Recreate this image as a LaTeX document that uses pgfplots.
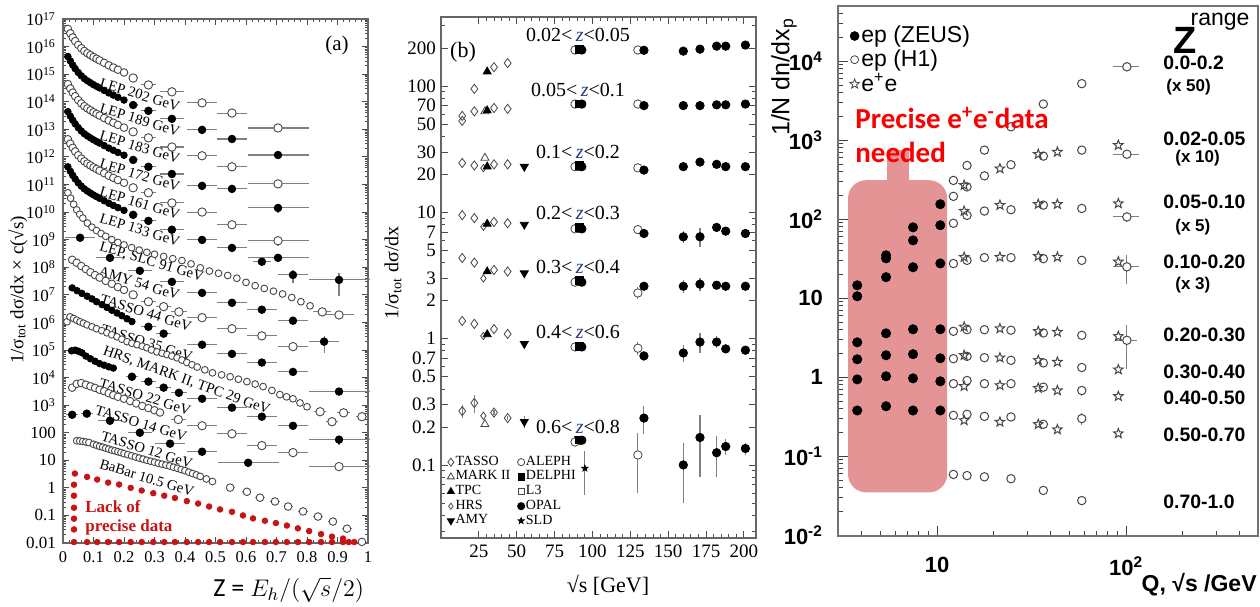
\documentclass[border=0pt]{standalone}
\usepackage{fontspec}
\setmainfont{Liberation Serif}
\newfontfamily\lsans{Liberation Sans}
\newfontfamily\carlito{Carlito}
\usepackage{pgfplots}
\pgfplotsset{compat=1.18}

\definecolor{ocol}{RGB}{70,70,70}
\definecolor{dotred}{RGB}{200,20,20}
\definecolor{boxred}{RGB}{202,42,42}
\definecolor{zblue}{RGB}{40,55,130}
\definecolor{txtred}{RGB}{250,0,0}

% open and filled five-point stars
\pgfdeclareplotmark{ostar}{%
  \pgfpathmoveto{\pgfpointpolar{90}{\pgfplotmarksize}}%
  \pgfpathlineto{\pgfpointpolar{126}{0.42*\pgfplotmarksize}}%
  \pgfpathlineto{\pgfpointpolar{162}{\pgfplotmarksize}}%
  \pgfpathlineto{\pgfpointpolar{198}{0.42*\pgfplotmarksize}}%
  \pgfpathlineto{\pgfpointpolar{234}{\pgfplotmarksize}}%
  \pgfpathlineto{\pgfpointpolar{270}{0.42*\pgfplotmarksize}}%
  \pgfpathlineto{\pgfpointpolar{306}{\pgfplotmarksize}}%
  \pgfpathlineto{\pgfpointpolar{342}{0.42*\pgfplotmarksize}}%
  \pgfpathlineto{\pgfpointpolar{18}{\pgfplotmarksize}}%
  \pgfpathlineto{\pgfpointpolar{54}{0.42*\pgfplotmarksize}}%
  \pgfpathclose\pgfusepathqstroke}
\pgfdeclareplotmark{fstar}{%
  \pgfpathmoveto{\pgfpointpolar{90}{\pgfplotmarksize}}%
  \pgfpathlineto{\pgfpointpolar{126}{0.42*\pgfplotmarksize}}%
  \pgfpathlineto{\pgfpointpolar{162}{\pgfplotmarksize}}%
  \pgfpathlineto{\pgfpointpolar{198}{0.42*\pgfplotmarksize}}%
  \pgfpathlineto{\pgfpointpolar{234}{\pgfplotmarksize}}%
  \pgfpathlineto{\pgfpointpolar{270}{0.42*\pgfplotmarksize}}%
  \pgfpathlineto{\pgfpointpolar{306}{\pgfplotmarksize}}%
  \pgfpathlineto{\pgfpointpolar{342}{0.42*\pgfplotmarksize}}%
  \pgfpathlineto{\pgfpointpolar{18}{\pgfplotmarksize}}%
  \pgfpathlineto{\pgfpointpolar{54}{0.42*\pgfplotmarksize}}%
  \pgfpathclose\pgfusepathqfillstroke}

\pgfplotsset{
  oc/.style={only marks, mark=*, mark size=1.9pt, mark options={fill=white, draw=ocol, line width=0.45pt}},
  fc/.style={only marks, mark=*, mark size=1.65pt, black},
  eb/.style={error bars/x dir=both, error bars/x explicit, error bars/y dir=both, error bars/y explicit,
    error bars/error mark=none, error bars/error bar style={black!50, line width=0.55pt}},
}
\tikzset{
  lab/.style={rotate=-17, font=\fontsize{7.3}{8}\selectfont, inner sep=0pt},
  rowlab/.style={font=\fontsize{10}{11}\selectfont, inner sep=0pt},
}
\newcommand{\zz}{\textcolor{zblue}{\textit{z}}}

\begin{document}
\begin{tikzpicture}
\useasboundingbox (0,0) rectangle (630pt,303pt);

% ================= panel (a) =================
\begin{axis}[
  at={(31.5pt,31.5pt)}, anchor=south west, scale only axis,
  width=152.5pt, height=262pt, clip=false,
  xmin=0, xmax=1, ymode=log, ymin=0.01, ymax=1e17,
  xtick={0,0.1,0.2,0.3,0.4,0.5,0.6,0.7,0.8,0.9,1},
  xticklabels={0,0.1,0.2,0.3,0.4,0.5,0.6,0.7,0.8,0.9,1},
  minor x tick num=4,
  ytick={1e-2,1e-1,1,1e1,1e2,1e3,1e4,1e5,1e6,1e7,1e8,1e9,1e10,1e11,1e12,1e13,1e14,1e15,1e16,1e17},
  yticklabels={0.01,0.1,1,10,100,10\textsuperscript{3},10\textsuperscript{4},10\textsuperscript{5},10\textsuperscript{6},10\textsuperscript{7},10\textsuperscript{8},10\textsuperscript{9},10\textsuperscript{10},10\textsuperscript{11},10\textsuperscript{12},10\textsuperscript{13},10\textsuperscript{14},10\textsuperscript{15},10\textsuperscript{16},10\textsuperscript{17}},
  minor ytick={},
  tick align=inside, major tick length=3pt, minor tick length=1.6pt,
  tick style={black!70, line width=0.4pt},
  axis line style={black!60, line width=0.6pt},
  ticklabel style={font=\fontsize{8.5}{9}\selectfont},
  xticklabel style={yshift=-1pt, font=\fontsize{8.2}{9}\selectfont},
]
% LEP 202
\addplot[oc] coordinates {(0.016,4.37e16)(0.024,3.02e16)(0.032,2.14e16)(0.04,1.58e16)(0.05,1.15e16)(0.06,8.71e15)(0.07,6.92e15)(0.08,5.75e15)(0.09,4.90e15)(0.1,4.17e15)(0.11,3.63e15)(0.12,3.16e15)(0.135,2.57e15)(0.15,2.09e15)(0.165,1.74e15)(0.18,1.45e15)(0.2,1.15e15)};
\addplot[oc,eb,mark size=2.1pt] coordinates {(0.23,7.24e14) +- (0.015,0) (0.28,4.07e14) +- (0.025,0) (0.357,2.29e14) +- (0.04,0) (0.456,9.12e13) +- (0.05,0) (0.554,3.89e13) +- (0.05,0) (0.705,1.12e13) +- (0.1,0)};
% LEP 189
\addplot[fc] coordinates {(0.016,4.37e15)(0.024,3.02e15)(0.032,2.14e15)(0.04,1.58e15)(0.05,1.15e15)(0.06,8.71e14)(0.07,6.92e14)(0.08,5.75e14)(0.09,4.90e14)(0.1,4.17e14)(0.11,3.63e14)(0.12,3.16e14)(0.135,2.57e14)(0.15,2.09e14)(0.165,1.74e14)(0.18,1.45e14)(0.2,1.15e14)};
\addplot[fc,eb,mark size=1.9pt] coordinates {(0.23,7.59e13) +- (0.015,0) (0.28,4.68e13) +- (0.025,0) (0.357,2.40e13) +- (0.04,0) (0.456,9.55e12) +- (0.05,0) (0.554,4.47e12) +- (0.05,0) (0.705,1.17e12) +- (0.1,0)};
% LEP 183
\addplot[oc] coordinates {(0.016,4.37e14)(0.024,3.02e14)(0.032,2.14e14)(0.04,1.58e14)(0.05,1.15e14)(0.06,8.71e13)(0.07,6.92e13)(0.08,5.75e13)(0.09,4.90e13)(0.1,4.17e13)(0.11,3.63e13)(0.12,3.16e13)(0.135,2.57e13)(0.15,2.09e13)(0.165,1.74e13)(0.18,1.45e13)(0.2,1.15e13)};
\addplot[oc,eb,mark size=2.1pt] coordinates {(0.23,8.13e12) +- (0.015,0) (0.28,4.90e12) +- (0.025,0) (0.357,2.29e12) +- (0.04,0) (0.456,1.10e12) +- (0.05,0) (0.554,4.37e11) +- (0.05,0) (0.705,1.05e11) +- (0.1,0)};
% LEP 172
\addplot[fc] coordinates {(0.016,4.37e13)(0.024,3.02e13)(0.032,2.14e13)(0.04,1.58e13)(0.05,1.15e13)(0.06,8.71e12)(0.07,6.92e12)(0.08,5.75e12)(0.09,4.90e12)(0.1,4.17e12)(0.11,3.63e12)(0.12,3.16e12)(0.135,2.57e12)(0.15,2.09e12)(0.165,1.74e12)(0.18,1.45e12)(0.2,1.15e12)};
\addplot[fc,eb,mark size=1.9pt] coordinates {(0.23,7.76e11) +- (0.015,0) (0.28,4.37e11) +- (0.025,0) (0.357,2.40e11) +- (0.04,0) (0.456,8.91e10) +- (0.05,0) (0.554,6.92e10) +- (0.05,0) (0.705,1.41e10) +- (0.1,0.5e10)};
% LEP 161
\addplot[oc] coordinates {(0.016,4.37e12)(0.024,3.02e12)(0.032,2.14e12)(0.04,1.58e12)(0.05,1.15e12)(0.06,8.71e11)(0.07,6.92e11)(0.08,5.75e11)(0.09,4.90e11)(0.1,4.17e11)(0.11,3.63e11)(0.12,3.16e11)(0.135,2.57e11)(0.15,2.09e11)(0.165,1.74e11)(0.18,1.45e11)(0.2,1.15e11)};
\addplot[oc,eb,mark size=2.1pt] coordinates {(0.23,7.59e10) +- (0.015,0) (0.28,5.01e10) +- (0.025,0) (0.357,2.14e10) +- (0.04,0) (0.456,1.0e10) +- (0.05,0) (0.554,3.47e9) +- (0.05,0) (0.705,9.12e8) +- (0.1,3e8)};
% LEP 133
\addplot[fc] coordinates {(0.016,4.37e11)(0.024,3.02e11)(0.032,2.14e11)(0.04,1.58e11)(0.05,1.15e11)(0.06,8.71e10)(0.07,6.92e10)(0.08,5.75e10)(0.09,4.90e10)(0.1,4.17e10)(0.11,3.63e10)(0.12,3.16e10)(0.135,2.57e10)(0.15,2.09e10)(0.165,1.74e10)(0.18,1.45e10)(0.2,1.15e10)};
\addplot[fc,eb,mark size=1.9pt] coordinates {(0.23,7.94e9) +- (0.015,0) (0.28,4.79e9) +- (0.025,0) (0.357,2.29e9) +- (0.04,0) (0.456,9.77e8) +- (0.05,0) (0.554,5.01e8) +- (0.05,0) (0.705,2.19e8) +- (0.1,0)};
\addplot[fc,eb,mark size=1.9pt] coordinates {(0.652,1.58e8) +- (0.03,0.5e8) (0.754,5.25e7) +- (0.05,2.5e7) (0.905,3.47e7) +- (0.1,2.6e7)};
% LEP, SLC 91
\addplot[oc,mark size=1.7pt] coordinates {(0.016,5.01e10)(0.025,3.16e10)(0.035,1.91e10)(0.045,1.20e10)(0.055,8.32e9)(0.065,6.03e9)(0.08,3.98e9)(0.095,2.82e9)(0.11,2.14e9)(0.125,1.66e9)(0.14,1.32e9)(0.16,1.0e9)(0.18,7.94e8)(0.2,6.46e8)(0.225,5.13e8)(0.25,4.17e8)(0.275,3.47e8)(0.3,2.95e8)(0.33,2.45e8)(0.36,2.04e8)(0.39,1.74e8)(0.42,1.32e8)(0.45,9.55e7)(0.48,7.24e7)(0.51,6.03e7)(0.54,5.01e7)(0.57,3.98e7)(0.6,2.82e7)(0.63,2.14e7)(0.66,1.70e7)(0.69,1.35e7)(0.72,1.07e7)(0.75,7.94e6)(0.78,5.62e6)(0.81,3.98e6)};
\addplot[oc,eb,mark size=2.1pt] coordinates {(0.85,2.4e6) +- (0.03,0) (0.905,1.86e6) +- (0.05,0)};
\addplot[fc,eb,mark size=1.9pt] coordinates {(0.056,1.17e9) +- (0.05,0) (0.154,2.19e8) +- (0.045,0) (0.252,7.41e7) +- (0.04,0) (0.357,2.95e7) +- (0.04,0) (0.456,1.17e7) +- (0.05,0) (0.554,5.13e6) +- (0.05,0) (0.652,2.88e6) +- (0.05,0) (0.754,1.15e6) +- (0.05,0) (0.856,2.0e5) +- (0.05,1.2e5)};
% AMY 54
\addplot[oc] coordinates {(0.03,1.86e8)(0.045,1.45e8)(0.06,1.10e8)(0.075,8.5e7)(0.09,6.6e7)(0.105,5.2e7)(0.12,4.2e7)(0.14,3.2e7)(0.16,2.5e7)(0.18,1.9e7)(0.2,1.5e7)};
\addplot[oc,eb,mark size=2.1pt] coordinates {(0.23,1.0e7) +- (0.015,0) (0.28,5.62e6) +- (0.025,0) (0.33,3.72e6) +- (0.025,0) (0.38,2.40e6) +- (0.025,0) (0.456,1.48e6) +- (0.05,0) (0.554,5.89e5) +- (0.05,0) (0.652,3.24e5) +- (0.05,0) (0.754,1.32e5) +- (0.05,0)};
% TASSO 44
\addplot[fc] coordinates {(0.03,1.78e7)(0.046,1.41e7)(0.062,1.12e7)(0.079,8.9e6)(0.095,7.1e6)(0.11,5.6e6)(0.128,4.4e6)(0.144,3.5e6)(0.16,2.75e6)(0.177,2.19e6)(0.193,1.74e6)(0.21,1.35e6)(0.226,1.07e6)};
\addplot[fc,eb,mark size=1.9pt] coordinates {(0.28,6.9e5) +- (0.025,0) (0.33,3.9e5) +- (0.025,0) (0.456,1.55e5) +- (0.05,0) (0.554,7.2e4) +- (0.05,0) (0.652,3.5e4) +- (0.05,0) (0.754,1.6e4) +- (0.05,0) (0.905,3.1e3) +- (0.1,0)};
% TASSO 35
\addplot[oc,mark size=1.7pt] coordinates {(0.013,1.05e6)(0.023,1.58e6)(0.035,1.38e6)(0.045,1.2e6)(0.056,1.05e6)(0.067,9.3e5)(0.079,8.1e5)(0.095,6.9e5)(0.11,5.9e5)(0.127,5.0e5)(0.144,4.2e5)(0.16,3.55e5)(0.177,3.0e5)(0.193,2.45e5)(0.21,2.0e5)(0.226,1.75e5)(0.243,1.55e5)(0.26,1.37e5)(0.275,1.2e5)(0.29,1.0e5)(0.308,8.5e4)(0.325,7.6e4)(0.341,6.8e4)(0.357,6.0e4)(0.374,5.2e4)(0.39,4.3e4)(0.406,3.5e4)(0.423,2.9e4)(0.44,2.4e4)(0.465,1.9e4)(0.49,1.48e4)(0.52,1.25e4)(0.548,1.07e4)(0.575,8.7e3)(0.603,7.1e3)(0.63,5.8e3)(0.656,4.7e3)(0.685,3.4e3)(0.711,2.4e3)(0.733,2.0e3)(0.754,1.7e3)(0.777,1.2e3)(0.8,870)};
\addplot[oc,eb,mark size=2.1pt] coordinates {(0.843,575) +- (0.02,0) (0.882,250) +- (0.02,60) (0.92,525) +- (0.02,0) (0.98,380) +- (0.02,0)};
% HRS, MARK II, TPC 29
\addplot[fc] coordinates {(0.028,9.3e4)(0.04,9.8e4)(0.05,9.0e4)(0.062,7.9e4)(0.075,6.0e4)(0.09,4.8e4)(0.105,3.9e4)(0.12,3.2e4)(0.135,2.8e4)(0.15,2.45e4)(0.165,2.2e4)};
\addplot[fc,eb,mark size=1.9pt] coordinates {(0.226,1.07e4) +- (0.02,0) (0.28,7.1e3) +- (0.025,0) (0.33,4.3e3) +- (0.025,0) (0.38,2.8e3) +- (0.025,0) (0.456,1.7e3) +- (0.05,0) (0.554,810) +- (0.05,0) (0.652,380) +- (0.05,0) (0.754,178) +- (0.05,0) (0.905,56) +- (0.1,20)};
% TASSO 22
\addplot[oc] coordinates {(0.03,4.3e3)(0.045,5.9e3)(0.06,6.3e3)(0.075,5.5e3)(0.09,4.8e3)(0.105,4.2e3)(0.12,3.6e3)(0.135,3.2e3)(0.15,2.7e3)(0.165,2.3e3)(0.18,2.0e3)(0.2,1.7e3)(0.22,1.4e3)(0.24,1.15e3)(0.26,930)(0.28,780)(0.3,650)(0.318,540)};
\addplot[oc,eb,mark size=2.1pt] coordinates {(0.378,300) +- (0.025,0) (0.456,178) +- (0.05,0) (0.554,91) +- (0.05,0) (0.652,34) +- (0.05,0) (0.754,19) +- (0.05,0) (0.905,5.9) +- (0.1,0)};
% TASSO 14
\addplot[fc,eb,mark size=1.9pt] coordinates {(0.03,447) +- (0.02,0) (0.078,490) +- (0.02,0) (0.154,270) +- (0.04,0) (0.252,100) +- (0.04,0) (0.351,40) +- (0.05,0) (0.456,20.4) +- (0.05,0) (0.607,8.1) +- (0.1,0)};
% TASSO 12 / BaBar
\addplot[oc,mark size=1.7pt] coordinates {(0.045,51)(0.055,50)(0.065,48)(0.075,46)(0.085,44)(0.1,38)(0.11,35)(0.12,32)(0.13,30)(0.14,27.5)(0.15,25.5)(0.16,23.4)(0.17,22)(0.18,20.4)(0.19,19)(0.2,17.4)(0.2125,16)(0.225,14.5)(0.2375,13.2)(0.25,12)(0.2625,11)(0.275,10)(0.2875,9.2)(0.3,8.5)(0.3125,7.8)(0.325,7.2)(0.3375,6.7)(0.35,6.2)(0.3625,5.6)(0.375,5.1)(0.3875,4.6)(0.4,4.2)(0.4125,3.7)(0.425,3.3)(0.4375,2.95)(0.45,2.6)(0.47,2.1)(0.49,1.7)};
\addplot[oc,eb,mark size=1.9pt] coordinates {(0.548,1.02) +- (0.015,0) (0.603,0.72) +- (0.015,0) (0.646,0.44) +- (0.015,0) (0.695,0.32) +- (0.015,0) (0.738,0.21) +- (0.015,0) (0.787,0.14) +- (0.015,0) (0.836,0.091) +- (0.015,0) (0.885,0.060) +- (0.015,0) (0.931,0.033) +- (0.015,0) (0.98,0.011) +- (0.01,0)};
% "lack of precise data" region
\addplot[only marks, mark=*, mark size=1.4pt, dotred] coordinates {(0.039,3.3)(0.079,2.5)(0.112,2.0)(0.148,1.55)(0.184,1.32)(0.222,1.0)(0.258,0.80)(0.296,0.64)(0.332,0.52)(0.367,0.43)(0.406,0.33)(0.443,0.27)(0.479,0.21)(0.515,0.165)(0.554,0.135)(0.59,0.10)(0.623,0.078)(0.662,0.064)(0.698,0.053)(0.734,0.043)(0.77,0.034)(0.807,0.027)(0.846,0.021)(0.882,0.017)(0.918,0.0145)};
\addplot[only marks, mark=*, mark size=1.4pt, dotred] coordinates {(0.036,1.3)(0.036,0.52)(0.036,0.19)(0.036,0.076)(0.036,0.031)};
\addplot[only marks, mark=*, mark size=1.4pt, dotred] coordinates {(0.036,0.0108)(0.079,0.0108)(0.112,0.0108)(0.148,0.0108)(0.184,0.0108)(0.222,0.0108)(0.258,0.0108)(0.296,0.0108)(0.332,0.0108)(0.367,0.0108)(0.406,0.0108)(0.443,0.0108)(0.479,0.0108)(0.515,0.0108)(0.554,0.0108)(0.59,0.0108)(0.623,0.0108)(0.662,0.0108)(0.698,0.0108)(0.734,0.0108)(0.77,0.0108)(0.807,0.0108)(0.846,0.0108)(0.882,0.0108)(0.918,0.0108)(0.937,0.0108)(0.955,0.0108)};
% curve labels
\node[lab] at (axis cs:0.252,1.8e14) {LEP 202 GeV};
\node[lab] at (axis cs:0.252,2.2e13) {LEP 189 GeV};
\node[lab] at (axis cs:0.252,2.3e12) {LEP 183 GeV};
\node[lab] at (axis cs:0.252,2.2e11) {LEP 172 GeV};
\node[lab] at (axis cs:0.252,2.1e10) {LEP 161 GeV};
\node[lab] at (axis cs:0.252,2.3e9) {LEP 133 GeV};
\node[lab] at (axis cs:0.29,1.5e8) {LEP, SLC 91 GeV};
\node[lab] at (axis cs:0.25,2.6e7) {AMY 54 GeV};
\node[lab] at (axis cs:0.272,2.2e6) {TASSO 44 GeV};
\node[lab] at (axis cs:0.275,1.8e5) {TASSO 35 GeV};
\node[lab,rotate=-3] at (axis cs:0.405,7.6e3) {HRS, MARK II, TPC 29 GeV};
\node[lab] at (axis cs:0.269,2.0e3) {TASSO 22 GeV};
\node[lab] at (axis cs:0.256,214) {TASSO 14 GeV};
\node[lab] at (axis cs:0.275,24) {TASSO 12 GeV};
\node[lab] at (axis cs:0.275,2.3) {BaBar 10.5 GeV};
\end{axis}

% ================= panel (b) =================
\begin{axis}[
  at={(220.5pt,34pt)}, anchor=south west, scale only axis,
  width=157.5pt, height=260.5pt, clip=false,
  xmin=0, xmax=208, ymode=log, ymin=0.0264, ymax=352,
  xtick={25,50,75,100,125,150,175,200},
  xticklabels={25,50,75,100,125,150,175,200},
  minor x tick num=4,
  ytick={0.1,0.2,0.3,0.5,0.7,1,2,3,5,7,10,20,30,50,70,100,200},
  yticklabels={0.1,0.2,0.3,0.5,0.7,1,2,3,5,7,10,20,30,50,70,100,200},
  minor ytick={0.03,0.04,0.05,0.06,0.07,0.08,0.09,0.4,0.6,0.8,0.9,4,6,8,9,40,60,80,90,300},
  tick align=inside, major tick length=3.5pt, minor tick length=2pt,
  tick style={black!70, line width=0.4pt},
  axis line style={black!60, line width=0.6pt},
  ticklabel style={font=\fontsize{9.5}{10}\selectfont},
  yticklabel style={xshift=1pt},
  legend columns=2, legend cell align=left,
  legend style={at={(0.0,0.168)}, anchor=north west, draw=none, fill=none,
    font=\fontsize{7}{7.5}\selectfont, nodes={inner sep=0.6pt},
    /tikz/every even column/.append style={column sep=3pt}},
  legend image code/.code={\draw[mark repeat=2,mark phase=2,#1] plot coordinates {(0cm,0cm)(0.13cm,0cm)(0.26cm,0cm)};},
]
\addlegendimage{only marks, mark=diamond, mark size=2pt, ocol}
\addlegendimage{only marks, mark=o, mark size=1.8pt, ocol}
\addlegendimage{only marks, mark=triangle, mark size=2pt, ocol}
\addlegendimage{only marks, mark=square*, mark size=1.6pt, black}
\addlegendimage{only marks, mark=triangle*, mark size=2pt, black}
\addlegendimage{only marks, mark=square, mark size=1.6pt, ocol}
\addlegendimage{only marks, mark=diamond, mark size=1.5pt, ocol}
\addlegendimage{only marks, mark=*, mark size=1.8pt, black}
\addlegendimage{only marks, mark=triangle*, mark size=2pt, black, mark options={rotate=180}}
\addlegendimage{only marks, mark=fstar, mark size=1.6pt, black}
\legend{TASSO,ALEPH,MARK II,DELPHI,TPC,L3,HRS,OPAL,AMY,SLD}
% TASSO
\addplot[forget plot, eb, only marks, mark=diamond, mark size=2.3pt, ocol] coordinates {
 (22,95) +- (0,0) (35,141) +- (0,0) (44,152) +- (0,0)
 (14,53) +- (0,0) (14,58) +- (0,0) (22,63) +- (0,0) (35,67) +- (0,0) (44,66) +- (0,0)
 (14,24.6) +- (0,0) (22,23.5) +- (0,0) (35,24) +- (0,0) (44,24) +- (0,0)
 (14,9.5) +- (0,0) (22,9.0) +- (0,0) (35,8.4) +- (0,0) (44,8.2) +- (0,0)
 (14,4.35) +- (0,0) (22,4.0) +- (0,0) (35,3.5) +- (0,0) (44,3.4) +- (0,0)
 (14,1.38) +- (0,0) (22,1.31) +- (0,0) (35,1.19) +- (0,0) (44,1.09) +- (0,0)
 (14,0.267) +- (0,0.03) (22,0.31) +- (0,0.05) (35,0.26) +- (0,0.01) (44,0.235) +- (0,0.01)};
% HRS
\addplot[forget plot, only marks, mark=diamond, mark size=1.8pt, ocol] coordinates {(28,22.4)(28,7.7)(28,3.0)(28,1.05)(28,0.245)};
% MARK II
\addplot[forget plot, only marks, mark=triangle, mark size=2.3pt, ocol] coordinates {(29,63)(29,27)(29,0.21)};
% TPC
\addplot[forget plot, only marks, mark=triangle*, mark size=2.3pt, black] coordinates {(30.5,130)(30.5,64)(30.5,23)(30.5,8.1)(30.5,3.4)(30.5,1.08)};
% AMY
\addplot[forget plot, eb, only marks, mark=triangle*, mark size=2.3pt, black, mark options={rotate=180}] coordinates {(55,23) +- (0,0) (55,8.0) +- (0,0) (55,3.3) +- (0,0) (55,0.91) +- (0,0) (55,0.22) +- (0,0.025)};
% LEP 91
\addplot[forget plot, only marks, mark=square, mark size=1.9pt, ocol] coordinates {(90.5,195)(90.5,72)(90.5,23)(90.5,7.5)(90.5,2.85)(90.5,0.86)(90.5,0.156)};
\addplot[forget plot, only marks, mark=*, mark size=2.1pt, mark options={fill=white, draw=ocol}] coordinates {(88.5,193)(88.5,72)(88.5,23)(88.5,7.4)(88.5,2.8)(88.5,0.86)(88.5,0.152)};
\addplot[forget plot, only marks, mark=square*, mark size=1.9pt, black] coordinates {(91.5,196)(91.5,72)(91.5,23.5)(91.5,7.6)(91.5,2.9)(91.5,0.87)(91.5,0.158)};
\addplot[forget plot, only marks, mark=*, mark size=2.1pt, black] coordinates {(93,193)(93,72)(93,23)(93,7.4)(93,2.8)(93,0.86)(93,0.157)};
\addplot[forget plot, eb, only marks, mark=fstar, mark size=1.6pt, black] coordinates {(95,0.094) +- (0,0.036)};
% 130-133
\addplot[forget plot, eb, only marks, mark=*, mark size=2.1pt, mark options={fill=white, draw=ocol}] coordinates {(130,193) +- (0,0) (130,72) +- (0,0) (130,22.5) +- (0,0) (130,7.3) +- (0,0.3) (130,2.3) +- (0,0.25) (130,0.84) +- (0,0.1) (130,0.12) +- (0,0.06)};
% OPAL high energy
\addplot[forget plot, eb, only marks, mark=*, mark size=2.1pt, black] coordinates {
 (134,192) +- (0,0) (134,70) +- (0,0) (134,21.6) +- (0,0) (134,6.8) +- (0,0.3) (134,2.6) +- (0,0.15) (134,0.73) +- (0,0.07) (134,0.235) +- (0,0.06)
 (160,189) +- (0,0) (160,70) +- (0,0) (160,23) +- (0,0) (160,6.4) +- (0,0.7) (160,2.6) +- (0,0.3) (160,0.77) +- (0,0.12) (160,0.1) +- (0,0.05)
 (171,196) +- (0,0) (171,70) +- (0,0) (171,25) +- (0,0) (171,6.4) +- (0,1.1) (171,2.7) +- (0,0.3) (171,0.94) +- (0,0.17) (171,0.165) +- (0,0.085)
 (182,207) +- (0,0) (182,71) +- (0,0) (182,24) +- (0,0) (182,7.6) +- (0,0.3) (182,2.65) +- (0,0.2) (182,0.94) +- (0,0.1) (182,0.125) +- (0,0.045)
 (188,207) +- (0,0) (188,71) +- (0,0) (188,23) +- (0,0) (188,7.1) +- (0,0.2) (188,2.6) +- (0,0.1) (188,0.83) +- (0,0.04) (188,0.14) +- (0,0.02)
 (201,211) +- (0,0) (201,72) +- (0,0) (201,23) +- (0,0) (201,6.8) +- (0,0.2) (201,2.6) +- (0,0.1) (201,0.81) +- (0,0.03) (201,0.135) +- (0,0.015)};
% z range labels
\node[rowlab] at (axis cs:90.5,254) {0.02<\,\zz<0.05};
\node[rowlab] at (axis cs:90.5,93) {0.05<\,\zz<0.1};
\node[rowlab] at (axis cs:90.5,30) {0.1<\,\zz<0.2};
\node[rowlab] at (axis cs:90.5,9.9) {0.2<\,\zz<0.3};
\node[rowlab] at (axis cs:90.5,3.69) {0.3<\,\zz<0.4};
\node[rowlab] at (axis cs:90.5,1.13) {0.4<\,\zz<0.6};
\node[rowlab] at (axis cs:90.5,0.20) {0.6<\,\zz<0.8};
\end{axis}

% ================= panel (c) =================
\begin{axis}[
  at={(419pt,35pt)}, anchor=south west, scale only axis,
  width=210pt, height=265pt, clip=false,
  xmode=log, ymode=log, xmin=2.99, xmax=499, ymin=0.0098, ymax=5.0e4,
  xtick={10,100}, xticklabels={\textbf{10},\textbf{10}\textsuperscript{\textbf{2}}},
  minor xtick={3,4,5,6,7,8,9,20,30,40,50,60,70,80,90,200,300,400},
  ytick={0.01,0.1,1,10,100,1000,10000},
  yticklabels={10\textsuperscript{-2},10\textsuperscript{-1},1,10,10\textsuperscript{2},10\textsuperscript{3},10\textsuperscript{4}},
  minor ytick={0.02,0.03,0.04,0.05,0.06,0.07,0.08,0.09,0.2,0.3,0.4,0.5,0.6,0.7,0.8,0.9,2,3,4,5,6,7,8,9,20,30,40,50,60,70,80,90,200,300,400,500,600,700,800,900,2000,3000,4000,5000,6000,7000,8000,9000,20000,30000,40000},
  xtick pos=bottom, ytick pos=left,
  tick align=inside, major tick length=5pt, minor tick length=2.6pt,
  tick style={black!75, line width=0.5pt},
  axis line style={black!55, line width=0.6pt},
  ticklabel style={font=\lsans\bfseries\fontsize{11}{12}\selectfont},
  xticklabel style={yshift=-7pt}, yticklabel style={xshift=-4pt},
  legend cell align=left,
  legend style={at={(0.013,0.974)}, anchor=north west, draw=none, fill=none,
    font=\lsans\fontsize{11.5}{12}\selectfont, nodes={inner sep=1pt}},
  legend image code/.code={\draw[mark repeat=2,mark phase=2,#1] plot coordinates {(0cm,0cm)(0.2cm,0cm)(0.4cm,0cm)};},
]
\addlegendimage{only marks, mark=*, mark size=2.2pt, black}
\addlegendimage{only marks, mark=o, mark size=2pt, ocol}
\addlegendimage{only marks, mark=ostar, mark size=2.5pt, ocol}
\legend{ep (ZEUS),ep (H1),e\textsuperscript{+}e}
% ZEUS
\addplot[forget plot, only marks, mark=*, mark size=2.3pt, black] coordinates {
 (3.78,14.6)(3.78,10.6)(3.78,2.77)(3.78,1.69)(3.78,0.94)(3.78,0.38)
 (5.37,35)(5.37,32)(5.37,18.5)(5.37,3.6)(5.37,1.9)(5.37,1.03)(5.37,0.43)
 (7.46,79)(7.46,54)(7.46,24.7)(7.46,4.05)(7.46,1.96)(7.46,0.97)(7.46,0.38)
 (10.4,155)(10.4,84)(10.4,27.6)(10.4,4.05)(10.4,1.74)(10.4,0.89)(10.4,0.38)};
% shaded region
\fill[boxred, opacity=0.5, rounded corners=9pt] (axis cs:3.38,312) rectangle (axis cs:11.3,0.035);
\fill[boxred, opacity=0.5] (axis cs:5.44,747) rectangle (axis cs:7.11,312);
% H1
\addplot[forget plot, eb, only marks, mark=*, mark size=2.1pt, mark options={fill=white, draw=ocol, line width=0.5pt}] coordinates {
 (12.2,310) +- (0,0) (14.4,480) +- (0,0) (17.8,750) +- (0,0) (24.6,1480) +- (0,0) (36.5,2870) +- (0,0) (58.3,5200) +- (0,0) (101,8500) +- (16,0)
 (12.2,195) +- (0,0) (14.4,257) +- (0,0) (17.8,354) +- (0,0) (24.6,490) +- (0,0) (36.5,630) +- (0,0) (58.3,750) +- (0,0) (101,665) +- (16,0)
 (12.2,89) +- (0,0) (14.4,112) +- (0,0) (17.8,127) +- (0,0) (24.6,132) +- (0,0) (36.5,151) +- (0,0) (58.3,137) +- (0,0) (101,107) +- (16,15)
 (12.2,27.5) +- (0,0) (14.4,30.2) +- (0,0) (17.8,32.7) +- (0,0) (24.6,32.7) +- (0,0) (36.5,31.7) +- (0,0) (58.3,30.2) +- (0,0) (101,25) +- (16,10)
 (12.2,3.82) +- (0,0) (14.4,4.0) +- (0,0) (17.8,4.0) +- (0,0) (24.6,3.94) +- (0,0) (36.5,3.64) +- (0,0) (58.3,3.4) +- (0,0) (101,2.94) +- (13,1.65)
 (12.2,1.72) +- (0,0) (14.4,1.84) +- (0,0) (17.8,1.77) +- (0,0) (24.6,1.64) +- (0,0) (36.5,1.52) +- (0,0) (58.3,1.33) +- (0,0)
 (12.2,0.83) +- (0,0) (14.4,0.91) +- (0,0) (17.8,0.83) +- (0,0) (24.6,0.83) +- (0,0) (36.5,0.75) +- (0,0) (58.3,0.68) +- (0,0.1)
 (12.2,0.33) +- (0,0) (14.4,0.34) +- (0,0) (17.8,0.32) +- (0,0) (24.6,0.315) +- (0,0) (36.5,0.254) +- (0,0) (58.3,0.30) +- (0,0.05)
 (12.2,0.059) +- (0,0) (14.4,0.057) +- (0,0) (17.8,0.055) +- (0,0) (24.6,0.052) +- (0,0) (36.5,0.037) +- (0,0) (58.3,0.0275) +- (0,0)};
% e+e-
\addplot[forget plot, only marks, mark=ostar, mark size=2.5pt, ocol, line width=0.5pt] coordinates {
 (13.9,270)(21.5,437)(34.3,665)(43.3,710)(91,865)
 (13.9,127)(21.5,151)(34.3,155)(43.3,155)(91,158)
 (13.9,33.2)(21.5,33.2)(34.3,34)(43.3,33.2)(91,29)
 (13.9,4.35)(21.5,4.14)(34.3,3.82)(43.3,3.74)(91,3.3)
 (13.9,1.9)(21.5,1.77)(34.3,1.64)(43.3,1.56)(91,1.25)
 (13.9,0.77)(21.5,0.79)(34.3,0.73)(43.3,0.68)(91,0.575)
 (13.9,0.285)(21.5,0.272)(34.3,0.254)(43.3,0.218)(91,0.194)};
\end{axis}

% ---------- outer labels, panel (a)
\node[rotate=90, font=\fontsize{9.5}{10}\selectfont] at (9pt,158pt) {1/σ\textsubscript{tot} dσ/dx × c(√s)};
\node[anchor=west, inner sep=0pt, font=\fontsize{13}{14}\selectfont] at (106.5pt,8pt) {{\carlito Z = }$E_h/(\sqrt{s}/2)$};
\node[font=\fontsize{10.5}{11}\selectfont] at (168.5pt,280.5pt) {(a)};
\node[anchor=west, inner sep=0pt, align=left, text=dotred, font=\bfseries\fontsize{8.5}{9.5}\selectfont] at (42.5pt,44.3pt) {Lack of\\precise data};
% ---------- panel (b)
\node[font=\fontsize{11}{12}\selectfont] at (231.5pt,277pt) {(b)};
\node[font=\fontsize{11}{12}\selectfont] at (304pt,10.5pt) {√s [GeV]};
\node[rotate=90, font=\fontsize{10}{11}\selectfont] at (196.5pt,166.5pt) {1/σ\textsubscript{tot} dσ/dx};
% ---------- panel (c)
\node[rotate=90, inner sep=0pt, font=\lsans\fontsize{12.5}{13}\selectfont] at (392pt,264.5pt) {1/N dn/dx\textsubscript{p}};
\node[anchor=east, inner sep=0pt, font=\lsans\bfseries\fontsize{11.5}{12}\selectfont] at (628.5pt,10.5pt) {Q, √s /GeV};
\node[anchor=west, inner sep=0pt, text=txtred, font=\carlito\bfseries\fontsize{14.5}{15}\selectfont] at (427.5pt,244pt) {Precise e\textsuperscript{+}e\textsuperscript{-}data};
\node[anchor=west, inner sep=0pt, text=txtred, font=\carlito\bfseries\fontsize{14.5}{15}\selectfont] at (427.5pt,227pt) {needed};
\node[font=\lsans\bfseries\fontsize{19}{20}\selectfont] at (592.5pt,283pt) {Z};
\node[font=\lsans\fontsize{11.5}{12}\selectfont] at (610pt,292pt) {range};
\begin{scope}[every node/.style={anchor=west, inner sep=0pt, font=\lsans\bfseries\fontsize{9.7}{10}\selectfont}]
\node at (581.5pt,271.5pt) {0.0-0.2};
\node[font=\lsans\bfseries\fontsize{8.5}{9}\selectfont] at (583pt,259.5pt) {(x 50)};
\node at (581.5pt,233.5pt) {0.02-0.05};
\node[font=\lsans\bfseries\fontsize{8.5}{9}\selectfont] at (587.5pt,224pt) {(x 10)};
\node at (581.5pt,202pt) {0.05-0.10};
\node[font=\lsans\bfseries\fontsize{8.5}{9}\selectfont] at (587.5pt,189.5pt) {(x 5)};
\node at (581.5pt,172pt) {0.10-0.20};
\node[font=\lsans\bfseries\fontsize{8.5}{9}\selectfont] at (587.5pt,160.5pt) {(x 3)};
\node at (581.5pt,135.5pt) {0.20-0.30};
\node at (581.5pt,117pt) {0.30-0.40};
\node at (581.5pt,104pt) {0.40-0.50};
\node at (581.5pt,85.5pt) {0.50-0.70};
\node at (581.5pt,52pt) {0.70-1.0};
\end{scope}
\end{tikzpicture}
\end{document}
